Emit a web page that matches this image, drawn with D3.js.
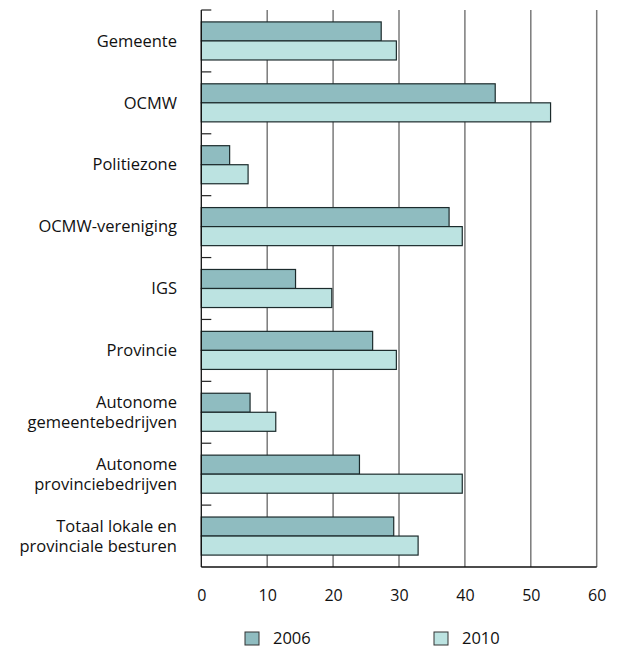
<!DOCTYPE html>
<html>
<head>
<meta charset="utf-8">
<script src="https://cdn.jsdelivr.net/npm/d3@7"></script>
<style>
  html, body { margin: 0; padding: 0; background: #ffffff; }
  svg { display: block; }
  text { font-family: "Open Sans", "Noto Sans", sans-serif; fill: #111; }
</style>
</head>
<body>
<svg id="chart" width="617" height="648"></svg>
<script>
const categories = [
  ["Gemeente"],
  ["OCMW"],
  ["Politiezone"],
  ["OCMW-vereniging"],
  ["IGS"],
  ["Provincie"],
  ["Autonome", "gemeentebedrijven"],
  ["Autonome", "provinciebedrijven"],
  ["Totaal lokale en", "provinciale besturen"]
];
const seriesNames = ["2006", "2010"];
const values2006 = [27.3, 44.6, 4.3, 37.6, 14.3, 26.0, 7.4, 24.0, 29.2];
const values2010 = [29.6, 53.0, 7.1, 39.6, 19.8, 29.6, 11.3, 39.6, 32.9];
const xTicks = [0, 10, 20, 30, 40, 50, 60];
const colors = ["#8fbcc0", "#bce3e1"];

const svg = d3.select("#chart");
const mLeft = 201.3, mRight = 596.7, mTop = 10, mBottom = 567;

const keys = categories.map((c, i) => i);
const x = d3.scaleLinear().domain([0, 60]).range([mLeft, mRight]);
const y = d3.scaleBand().domain(keys).range([mTop, mBottom]).paddingInner(0.385).paddingOuter(0.1925);
const ySub = d3.scaleBand().domain([0, 1]).range([0, y.bandwidth()]);
const yStep = d3.scaleBand().domain(keys).range([mTop, mBottom]);

// gridlines
svg.append("g").selectAll("line").data(xTicks.filter(t => t > 0)).join("line")
  .attr("x1", d => x(d)).attr("x2", d => x(d))
  .attr("y1", mTop).attr("y2", mBottom)
  .attr("stroke", "#7a7a7a").attr("stroke-width", 1.5);

// bars
const series = [values2006, values2010];
const gBars = svg.append("g");
series.forEach((vals, s) => {
  gBars.append("g").selectAll("rect").data(vals).join("rect")
    .attr("x", x(0))
    .attr("y", (d, i) => y(i) + ySub(s))
    .attr("width", d => x(d) - x(0))
    .attr("height", ySub.bandwidth())
    .attr("fill", colors[s])
    .attr("stroke", "#1c2b2c")
    .attr("stroke-width", 1.2);
});

// left axis line and ticks
svg.append("line").attr("x1", x(0)).attr("x2", x(0)).attr("y1", mTop).attr("y2", mBottom)
  .attr("stroke", "#111").attr("stroke-width", 1.3);
svg.append("g").selectAll("line").data(keys).join("line")
  .attr("x1", x(0)).attr("x2", x(0) + 10)
  .attr("y1", d => yStep(d)).attr("y2", d => yStep(d))
  .attr("stroke", "#222").attr("stroke-width", 1.2);

// bottom axis
svg.append("line").attr("x1", x(0)).attr("x2", x(60)).attr("y1", mBottom).attr("y2", mBottom)
  .attr("stroke", "#111").attr("stroke-width", 1.3);

const xAxis = svg.append("g").attr("transform", `translate(0,${mBottom})`)
  .call(d3.axisBottom(x).tickValues(xTicks).tickSize(0).tickPadding(22.5));
xAxis.select(".domain").remove();
xAxis.selectAll("text").style("font-size", "16px").style("font-family", '"Open Sans", sans-serif').attr("fill", "#111");

// category labels
const labels = svg.append("g");
categories.forEach((lines, i) => {
  const cy = y(i) + y.bandwidth() / 2;
  const lh = 19.5;
  lines.forEach((ln, j) => {
    labels.append("text")
      .attr("text-anchor", "end")
      .attr("x", 177)
      .attr("y", cy + (j - (lines.length - 1) / 2) * lh)
      .attr("dy", "0.35em")
      .style("font-size", "16.5px")
      .text(ln);
  });
});

// legend
const legendX = [245, 434];
seriesNames.forEach((name, s) => {
  const g = svg.append("g").attr("transform", `translate(${legendX[s]},632)`);
  g.append("rect").attr("width", 14).attr("height", 13)
    .attr("fill", colors[s]).attr("stroke", "#333").attr("stroke-width", 1);
  g.append("text").attr("x", 28).attr("y", 6.5).attr("dy", "0.36em")
    .style("font-size", "16.5px").text(name);
});
</script>
</body>
</html>
